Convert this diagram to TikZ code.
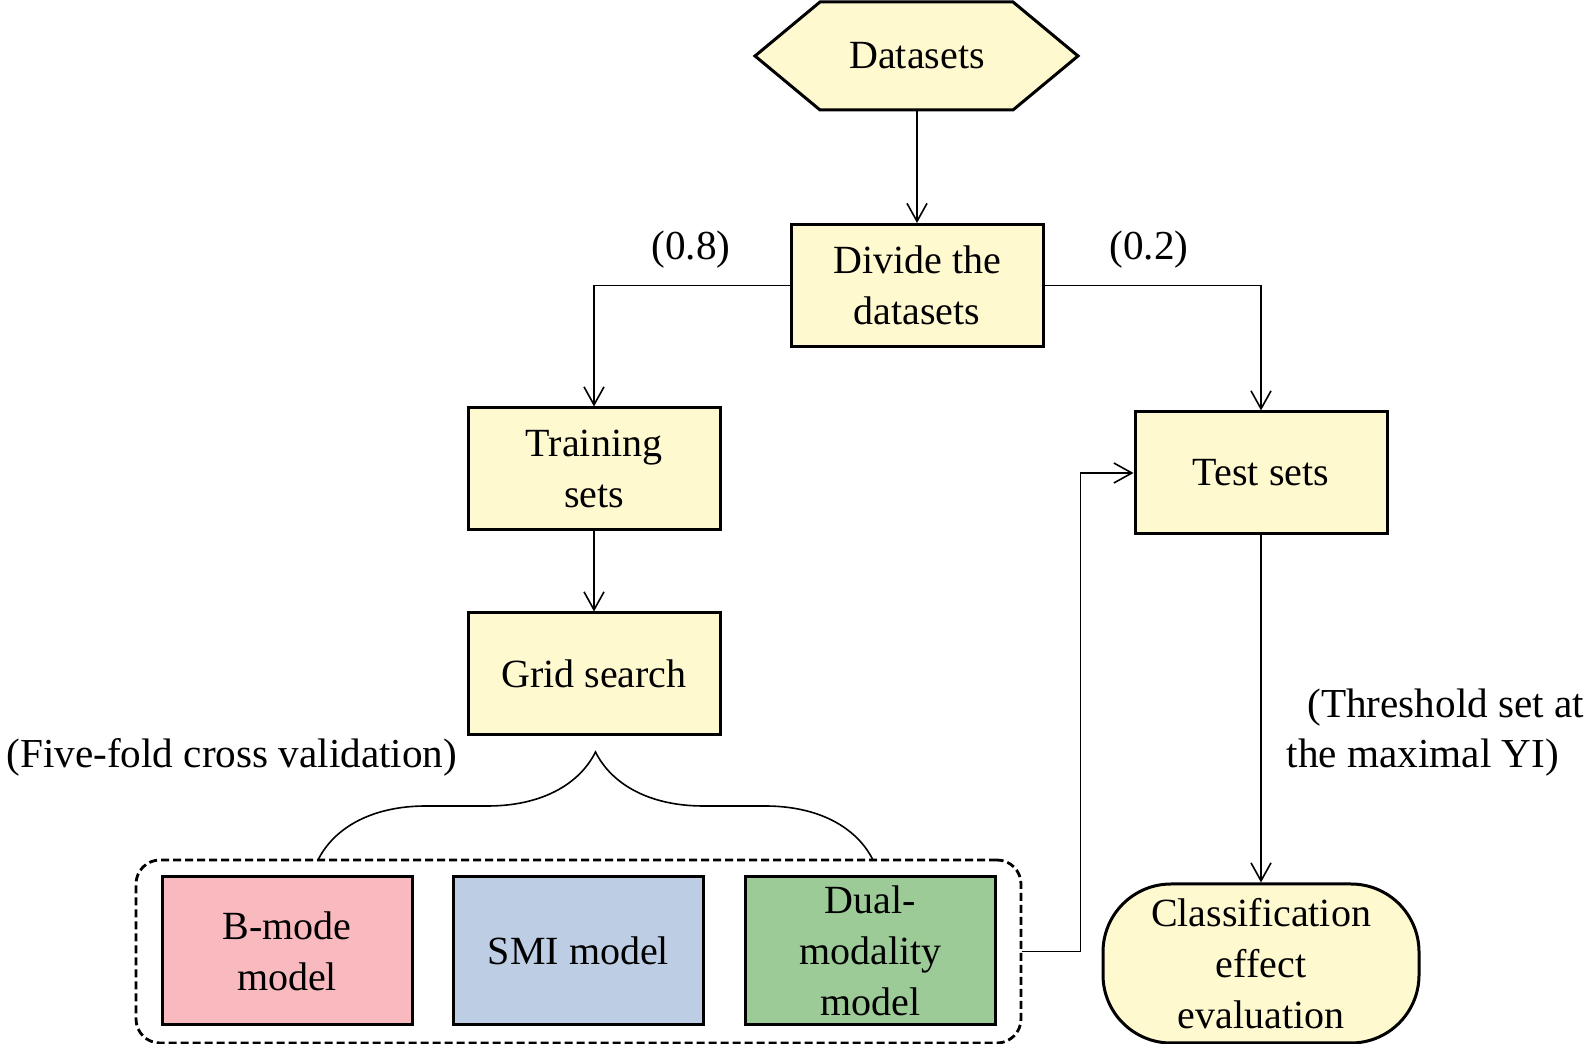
\documentclass[tikz,border=0pt]{standalone}
\usepackage{fontspec}
\setmainfont{Liberation Serif}
\usetikzlibrary{arrows.meta,positioning,calc,decorations.pathreplacing}
\definecolor{cream}{RGB}{255,249,208}
\definecolor{bmode}{RGB}{248,185,191}
\definecolor{smi}{RGB}{189,205,227}
\definecolor{dual}{RGB}{157,203,152}

\begin{document}
\begin{tikzpicture}[
            x=0.25pt, y=-0.25pt,
            font=\fontsize{10}{12.75}\selectfont,
                box/.style = {rectangle, draw, line width=0.75pt, fill=cream,% yellow process boxes
                            minimum width=63pt, minimum height=30.5pt,
                            align=center, inner sep=2pt},
              model/.style = {box, minimum width=62.5pt, minimum height=37pt,
                            fill=#1},
                lbl/.style = {font=\fontsize{10.3}{12.5}\selectfont},% free labels
              arrow/.style = {-{Straight Barb[length=4.5pt,width=5pt]}, line width=0.4pt},
                  B/.style = {decorate, decoration={brace, amplitude=27pt}, line width=0.4pt},
                ]
\useasboundingbox (0,0) rectangle (1593,1044);
% hexagon for the data
\draw[line width=0.75pt, fill=cream] (755,56) -- (820,2) -- (1013,2) -- (1078,56)
        -- (1013,110) -- (820,110) -- cycle;
\node[minimum height=27pt, inner sep=0pt] (data) at (917,56) {Datasets};
\node[box] (divide) at (917,285.5) {Divide the\\datasets};
\node[box] (train)  at (594,469)   {Training\\sets};
\node[box] (grid)   at (594,674)   {Grid search};
\node[box] (test)   at (1261,473)  {Test sets};
\node[box, minimum width=79pt, minimum height=39.75pt, rounded corners=17pt]
        (eval) at (1261,963.5) {Classification\\effect\\evaluation};
% the three models
\node[draw, dash pattern=on 2pt off 1pt, line width=0.7pt, rounded corners=6pt,
      minimum width=221.25pt, minimum height=45.75pt] (models) at (578.5,951.5) {};
\node[model=bmode] (bm)   at (287,951)   {B-mode\\model};
\node[model=smi]   (smim) at (578.5,951) {SMI model};
\node[model=dual]  (dm)   at (870.5,951) {Dual-\\modality\\model};
% labels
\node[lbl] (r08) at (691,250)  {(0.8)};
\node[lbl] (r02) at (1149,250) {(0.2)};
\node[lbl, anchor=east, inner sep=0pt] (cv) at (458,757) {(Five-fold cross validation)};
\node[lbl, anchor=west, align=left, inner sep=0pt] (yi) at (1286,733)
        {\hspace{0.5em}(Threshold set at\\the maximal YI)};
% connectors
\draw[arrow] (data.south) -- (divide.north);
\draw[arrow] (divide.west) -| (train.north);
\draw[arrow] (divide.east) -| (test.north);
\draw[arrow] (train.south) -- (grid.north);
\draw[arrow] (test.south) -- (eval.north);
\draw[arrow] (models.east) -- ++(58,0) |- (test.west);
\coordinate (bl) at (318,860);
\coordinate (br) at (873,860);
\draw[B] (bl) -- (br);
\end{tikzpicture}
\end{document}
